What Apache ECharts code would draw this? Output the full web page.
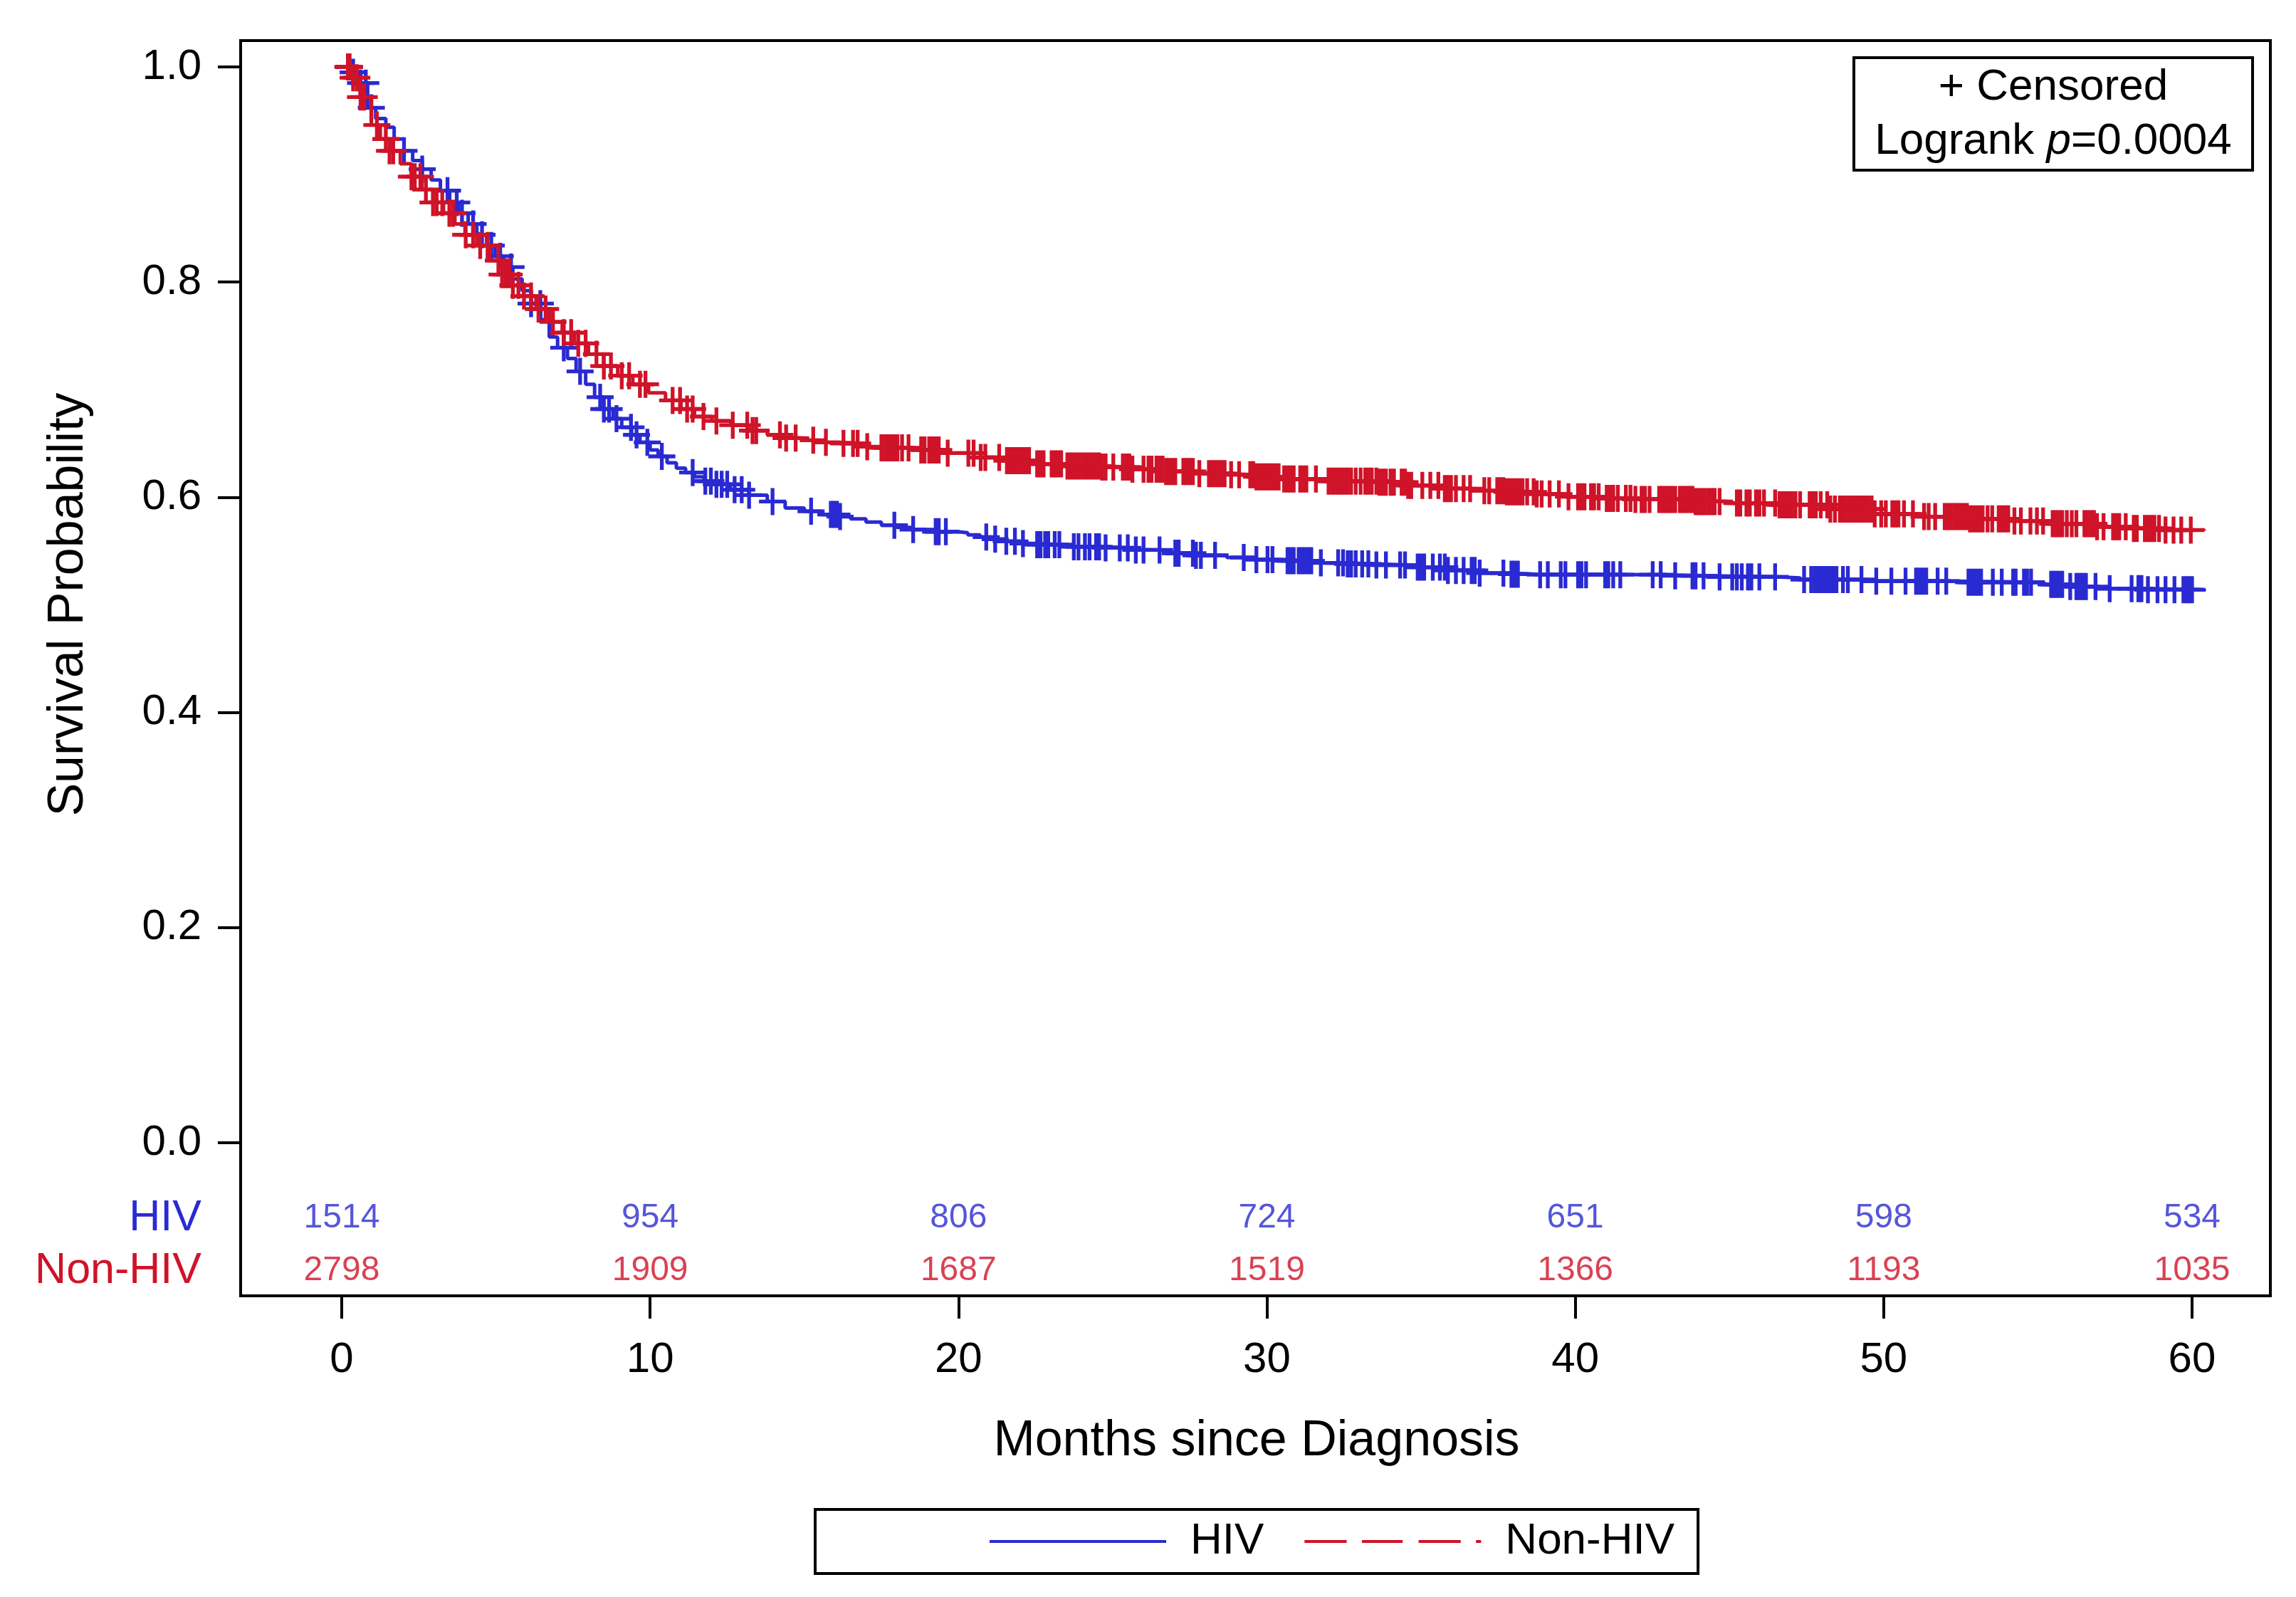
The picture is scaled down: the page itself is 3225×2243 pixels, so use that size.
<!DOCTYPE html>
<html>
<head>
<meta charset="utf-8">
<script src="https://cdn.jsdelivr.net/npm/echarts@6/dist/echarts.min.js"></script>
<style>html,body{margin:0;padding:0;background:#fff}#main{width:3225px;height:2243px}</style>
</head>
<body>
<div id="main"></div>
<script>
// ---------- data ----------
const hivCurve = [[0,1],[0.3,0.995],[0.5,0.985],[0.84,0.962],[1.1,0.952],[1.43,0.944],[1.7,0.933],[2.02,0.922],[2.3,0.913],[2.61,0.905],[2.9,0.895],[3.2,0.885],[3.5,0.874],[3.79,0.864],[4.1,0.854],[4.38,0.844],[4.7,0.834],[4.97,0.824],[5.25,0.814],[5.55,0.803],[5.85,0.792],[6.14,0.78],[6.45,0.765],[6.73,0.749],[7.0,0.739],[7.32,0.729],[7.6,0.717],[7.91,0.705],[8.2,0.693],[8.49,0.682],[8.8,0.673],[9.08,0.665],[9.4,0.658],[9.67,0.651],[10.0,0.644],[10.26,0.638],[10.55,0.632],[10.85,0.627],[11.15,0.623],[11.44,0.619],[11.75,0.615],[12.02,0.612],[12.6,0.607],[13.2,0.602],[13.8,0.596],[14.38,0.59],[15.0,0.587],[15.55,0.584],[16.1,0.582],[16.5,0.58],[17.0,0.577],[17.5,0.574],[18.0,0.572],[18.5,0.57],[19.2,0.568],[19.97,0.567],[20.3,0.565],[20.7,0.563],[21.1,0.561],[21.5,0.559],[22.0,0.557],[22.55,0.556],[23.5,0.554],[24.6,0.553],[25.6,0.551],[26.7,0.548],[27.7,0.546],[28.7,0.544],[29.6,0.542],[30.46,0.541],[31.5,0.539],[32.5,0.538],[33.5,0.537],[34.6,0.535],[35.8,0.532],[36.9,0.5295],[37.8,0.5285],[38.7,0.528],[42.8,0.527],[44.5,0.526],[46.6,0.525],[47.3,0.5235],[49.5,0.522],[52.3,0.521],[55.2,0.519],[56.0,0.517],[56.9,0.515],[58.5,0.514],[60.4,0.513]];

const nonHivCurve = [[0,1],[0.3,0.99],[0.6,0.972],[0.96,0.946],[1.25,0.933],[1.55,0.922],[1.9,0.91],[2.26,0.898],[2.6,0.886],[2.96,0.874],[3.3,0.864],[3.67,0.854],[4.0,0.844],[4.38,0.834],[4.8,0.82],[5.2,0.807],[5.55,0.797],[5.9,0.787],[6.3,0.775],[6.73,0.763],[7.15,0.753],[7.55,0.743],[8.0,0.733],[8.49,0.722],[8.95,0.713],[9.44,0.705],[9.95,0.697],[10.5,0.69],[11.0,0.682],[11.44,0.675],[12.0,0.671],[12.62,0.667],[13.2,0.662],[13.8,0.658],[14.4,0.655],[14.98,0.653],[15.5,0.651],[16.15,0.65],[17.0,0.647],[17.5,0.646],[18.5,0.644],[19.46,0.641],[20.5,0.637],[21.5,0.634],[22.55,0.631],[23.5,0.629],[24.6,0.628],[25.6,0.626],[26.7,0.624],[27.7,0.622],[28.7,0.621],[29.6,0.619],[30.46,0.617],[32.0,0.615],[33.56,0.614],[34.5,0.611],[35.6,0.608],[36.6,0.606],[37.7,0.605],[38.7,0.603],[39.7,0.6005],[40.8,0.599],[41.8,0.598],[43.85,0.596],[44.9,0.5946],[46.6,0.593],[48.2,0.589],[49.7,0.5845],[51.2,0.582],[52.8,0.58],[54.2,0.578],[55.4,0.5754],[56.9,0.5726],[58.0,0.571],[59.0,0.5695],[60.4,0.569]];

const hivCensorTimes = [0.25,0.37,0.61,0.78,0.96,2.02,2.61,3.43,3.73,3.9,4.26,4.55,4.85,5.14,5.49,6.14,6.44,7.2,7.73,8.38,8.5,8.67,8.91,9.38,9.56,9.91,10.38,11.38,11.79,11.97,12.15,12.32,12.5,12.74,12.97,13.21,13.97,
15.22,15.86,15.96,16.06,16.16,17.92,18.53,19.26,19.36,19.59,20.9,21.19,21.55,21.83,22.09,22.55,22.66,22.81,22.91,23.12,23.27,23.74,23.89,24.1,24.25,24.46,24.56,24.77,25.23,25.49,25.75,26.0,26.52,27.03,27.14,27.6,27.7,27.86,28.32,29.25,29.66,30.02,30.18,
30.67,30.77,30.87,31.03,31.13,31.23,31.34,31.44,31.75,32.31,32.47,32.62,32.73,32.88,33.09,33.29,33.55,33.86,34.32,34.48,34.89,34.99,35.1,35.38,35.61,35.77,35.87,36.13,36.38,36.64,36.74,36.9,37.67,37.93,38.03,38.14,38.86,39.11,39.53,39.68,40.09,40.2,40.35,40.97,41.07,41.23,41.46,42.51,42.77,43.24,43.8,43.9,44.16,44.68,45.09,45.24,45.4,45.6,45.71,45.97,46.48,
47.42,47.65,47.76,47.86,47.96,48.06,48.17,48.27,48.37,48.47,48.68,48.84,49.28,49.76,50.25,50.71,51.05,51.15,51.26,51.38,51.75,52.03,52.75,52.85,52.95,53.06,53.16,53.54,53.83,54.2,54.28,54.55,54.65,54.78,55.43,55.5,55.58,55.68,55.79,56.05,56.25,56.33,56.41,56.49,56.56,56.87,57.33,58.04,58.26,58.36,58.57,58.88,59.14,59.43,59.72,59.81,59.9,60.0];

const nonHivCensorTimes = [0.2,0.25,0.37,0.49,0.61,0.73,1.14,1.43,1.55,1.67,2.26,2.37,2.55,2.73,2.96,3.08,3.26,3.49,3.61,4.02,4.26,4.49,4.73,5.08,5.2,5.32,5.43,5.55,5.73,5.91,6.14,6.38,6.61,6.85,7.2,7.44,7.67,7.91,8.26,8.5,8.73,9.08,9.32,9.67,9.85,10.73,10.97,11.2,11.38,11.73,12.15,12.68,13.15,13.32,13.44,14.21,
14.41,14.72,15.29,15.7,16.27,16.58,16.73,17.04,17.5,17.61,17.71,17.81,17.92,18.02,18.17,18.38,18.79,18.9,19.05,19.15,19.26,19.36,19.65,20.32,20.49,20.72,20.87,21.32,21.57,21.68,21.78,21.88,21.99,22.09,22.19,22.29,22.55,22.66,22.76,23.02,23.12,23.22,23.33,23.53,23.63,23.74,23.84,23.94,24.05,24.15,24.25,24.36,24.46,24.56,24.66,24.77,25.02,25.33,25.44,25.54,25.64,26.0,26.16,26.26,26.42,26.52,26.62,26.73,26.83,26.93,27.03,27.29,27.39,27.5,27.6,27.81,28.12,28.22,28.32,28.43,28.53,28.63,28.84,29.1,29.46,29.56,29.66,29.77,29.87,29.97,30.07,30.18,30.28,30.38,
30.56,30.67,30.77,30.87,31.08,31.18,31.28,31.59,32.0,32.11,32.21,32.31,32.42,32.52,32.62,32.73,32.88,33.04,33.19,33.29,33.4,33.55,33.65,33.76,33.86,34.01,34.12,34.37,34.48,34.58,34.68,35.04,35.3,35.56,35.77,35.87,35.97,36.13,36.38,36.59,37.05,37.21,37.47,37.57,37.67,37.78,37.88,37.98,38.08,38.19,38.29,38.44,38.65,38.75,38.91,39.17,39.47,39.78,40.09,40.2,40.3,40.51,40.61,40.76,41.02,41.12,41.23,41.38,41.64,41.79,41.95,42.15,42.26,42.41,42.72,42.82,42.93,43.03,43.13,43.24,43.39,43.49,43.6,43.7,43.8,43.9,44.01,44.11,44.21,44.32,44.42,44.52,44.68,45.24,45.35,45.55,45.66,45.86,45.97,46.12,46.48,
46.62,46.72,46.83,46.93,47.03,47.14,47.29,47.6,47.7,47.8,47.96,48.17,48.27,48.42,48.58,48.68,48.78,48.89,48.99,49.09,49.2,49.3,49.4,49.5,49.61,49.71,49.92,50.07,50.28,50.38,50.48,50.66,50.95,51.31,51.46,51.67,51.98,52.08,52.18,52.29,52.39,52.49,52.6,52.7,52.8,52.9,53.01,53.11,53.21,53.37,53.52,53.73,53.83,53.94,54.04,54.24,54.45,54.76,54.97,55.17,55.48,55.58,55.69,55.79,55.94,56.1,56.25,56.51,56.61,56.72,56.82,56.92,57.13,57.44,57.54,57.64,57.85,58.11,58.21,58.47,58.57,58.67,58.78,58.93,59.14,59.4,59.65,59.96];

const atRiskTimes = [0, 10, 20, 30, 40, 50, 60];
const hivAtRisk = [1514, 954, 806, 724, 651, 598, 534];
const nonHivAtRisk = [2798, 1909, 1687, 1519, 1366, 1193, 1035];
const xTickValues = [0, 10, 20, 30, 40, 50, 60];
const yTickValues = [0, 0.2, 0.4, 0.6, 0.8, 1.0];
const groupNames = ['HIV', 'Non-HIV'];

// ---------- styling / layout ----------
const BLUE = '#2A2AD2';
const RED = '#CF1328';
const FONT = '"Liberation Sans", Arial, Helvetica, sans-serif';
const ROW_HIV = -0.0702;     // at-risk row positions (axis units)
const ROW_NON = -0.1191;

// Kaplan-Meier value at time t (right-continuous step function)
function survivalAt(curve, t) {
  let s = curve[0][1];
  for (const p of curve) { if (p[0] <= t) s = p[1]; else break; }
  return s;
}

const PLUS = 'path://M-0.14,-1L0.14,-1L0.14,-0.14L1,-0.14L1,0.14L0.14,0.14L0.14,1L-0.14,1L-0.14,0.14L-1,0.14L-1,-0.14L-0.14,-0.14Z';
// legend line samples: solid bar and long-dash pattern, drawn as filled shapes
const ICON_SOLID = 'path://M0,0H243V4H0Z';
const ICON_DASH = 'path://M0,0H58V4H0Z M79,0H135V4H79Z M157,0H215V4H157Z M236,0H243V4H236Z';

const chart = echarts.init(document.getElementById('main'), null, {renderer: 'canvas'});

const option = {
  animation: false,
  backgroundColor: '#fff',
  textStyle: {fontFamily: FONT},
  grid: {
    left: 338, right: 36, top: 57, bottom: 423,
    show: true, borderColor: '#000', borderWidth: 4, backgroundColor: 'transparent'
  },
  xAxis: {
    type: 'value', min: -3.278, max: 62.54,
    axisLine: {show: false, onZero: false},
    axisTick: {show: true, inside: false, length: 32, customValues: xTickValues, lineStyle: {color: '#000', width: 4}},
    axisLabel: {show: true, customValues: xTickValues, margin: 60, fontSize: 60, color: '#000', fontFamily: FONT},
    splitLine: {show: false}
  },
  yAxis: {
    type: 'value', min: -0.1423, max: 1.0245,
    axisLine: {show: false, onZero: false},
    axisTick: {show: true, inside: false, length: 32, customValues: yTickValues, lineStyle: {color: '#000', width: 4}},
    axisLabel: {
      show: true, margin: 55, fontSize: 60, color: '#000', fontFamily: FONT,
      customValues: [ROW_NON, ROW_HIV].concat(yTickValues),
      formatter: function (v) {
        if (v < -0.1) return '{n|' + groupNames[1] + '}';
        if (v < -0.01) return '{h|' + groupNames[0] + '}';
        return v.toFixed(1);
      },
      rich: {
        h: {color: BLUE, fontSize: 61, fontFamily: FONT},
        n: {color: RED, fontSize: 61, fontFamily: FONT}
      }
    },
    splitLine: {show: false}
  },
  legend: {
    data: [
      {name: groupNames[0], icon: ICON_SOLID, itemStyle: {color: BLUE, borderWidth: 0}},
      {name: groupNames[1], icon: ICON_DASH, itemStyle: {color: RED, borderWidth: 0}}
    ],
    left: 1145, top: 2120,
    orient: 'horizontal',
    padding: [14, 33, 14, 245],
    borderColor: '#000', borderWidth: 4,
    backgroundColor: '#fff',
    itemWidth: 248, itemHeight: 5, itemGap: 57,
    textStyle: {fontSize: 62, color: '#000', fontFamily: FONT, padding: [0, 0, 0, 29]},
    selectedMode: false
  },
  series: [
    {
      name: 'HIV curve', type: 'line', step: 'end', showSymbol: false, symbol: 'none',
      data: hivCurve, lineStyle: {color: BLUE, width: 5}, itemStyle: {color: BLUE}, z: 2
    },
    {
      name: 'HIV censored', type: 'scatter', symbol: PLUS, symbolSize: 38,
      data: hivCensorTimes.map(t => [t, survivalAt(hivCurve, t)]),
      itemStyle: {color: BLUE, opacity: 1}, z: 3
    },
    {
      name: 'Non-HIV curve', type: 'line', step: 'end', showSymbol: false, symbol: 'none',
      data: nonHivCurve, lineStyle: {color: RED, width: 5}, itemStyle: {color: RED}, z: 4
    },
    {
      name: 'Non-HIV censored', type: 'scatter', symbol: PLUS, symbolSize: 38,
      data: nonHivCensorTimes.map(t => [t, survivalAt(nonHivCurve, t)]),
      itemStyle: {color: RED, opacity: 1}, z: 5
    },
    {
      name: 'HIV at risk', type: 'scatter', symbolSize: 1, itemStyle: {color: 'rgba(0,0,0,0)'},
      data: atRiskTimes.map((t, i) => [t, ROW_HIV, hivAtRisk[i]]),
      label: {show: true, position: 'inside', formatter: p => String(p.value[2]), fontSize: 48, color: BLUE, fontFamily: FONT},
      z: 6
    },
    {
      name: 'Non-HIV at risk', type: 'scatter', symbolSize: 1, itemStyle: {color: 'rgba(0,0,0,0)'},
      data: atRiskTimes.map((t, i) => [t, ROW_NON, nonHivAtRisk[i]]),
      label: {show: true, position: 'inside', formatter: p => String(p.value[2]), fontSize: 48, color: RED, fontFamily: FONT},
      z: 6
    },
    // legend-only entries
    {
      name: groupNames[0], type: 'line', data: [], symbol: 'none', showSymbol: false,
      lineStyle: {color: BLUE, width: 4, type: 'solid'}, itemStyle: {color: BLUE}
    },
    {
      name: groupNames[1], type: 'line', data: [], symbol: 'none', showSymbol: false,
      lineStyle: {color: RED, width: 4, type: [57, 21]}, itemStyle: {color: RED}
    }
  ],
  graphic: [
    {
      type: 'text', x: 97, y: 849, rotation: Math.PI / 2,
      style: {text: 'Survival Probability', fontSize: 70, fontFamily: FONT, fill: '#000', align: 'center', verticalAlign: 'middle'}
    },
    {
      type: 'text', x: 1765, y: 2025,
      style: {text: 'Months since Diagnosis', fontSize: 70, fontFamily: FONT, fill: '#000', align: 'center', verticalAlign: 'middle'}
    },
    {
      type: 'rect', z: 50, shape: {x: 2604, y: 81, width: 560, height: 158},
      style: {fill: '#fff', stroke: '#000', lineWidth: 4}
    },
    {
      type: 'text', z: 51, x: 2884, y: 123,
      style: {text: '+ Censored', fontSize: 62, fontFamily: FONT, fill: '#000', align: 'center', verticalAlign: 'middle'}
    },
    {
      type: 'text', z: 51, x: 2884, y: 199,
      style: {
        text: 'Logrank {i|p}=0.0004', fontSize: 62, fontFamily: FONT, fill: '#000', align: 'center', verticalAlign: 'middle',
        rich: {i: {fontStyle: 'italic', fontSize: 62, fontFamily: FONT, fill: '#000'}}
      }
    }
  ]
};

chart.setOption(option);
</script>
</body>
</html>
